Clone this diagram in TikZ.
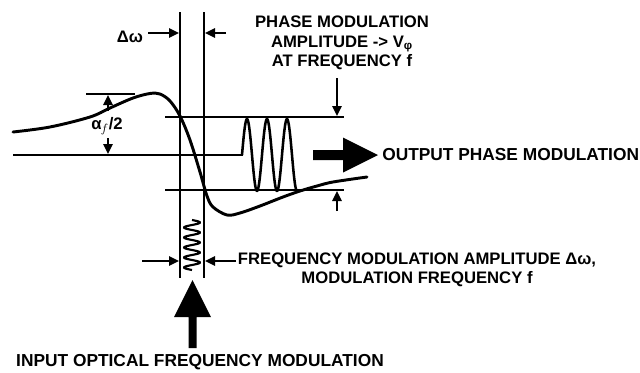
\documentclass[tikz,border=0pt]{standalone}
\usepackage{fontspec}
\setmainfont{Liberation Sans}
\usetikzlibrary{arrows.meta}
\begin{document}
\begin{tikzpicture}[x=0.75pt,y=-0.75pt,
  ln/.style={line width=1.9pt},
  curve/.style={line width=2.2pt, line cap=round, line join=round},
  sarr/.style={line width=1.6pt,-{Triangle[length=7.5pt,width=7pt]}},
  lbl/.style={font=\bfseries\fontsize{12.5}{14.5}\selectfont, inner sep=0pt, align=center},
  lblbig/.style={lbl, font=\bfseries\fontsize{13}{15}\selectfont},
  bigarr/.style={fill=black, draw=none}]
\useasboundingbox (0,0) rectangle (640,372);

% vertical window lines
\coordinate (vlT) at (180,12);  \coordinate (vlB) at (180,278);
\coordinate (vrT) at (204,12);  \coordinate (vrB) at (204,278);
\draw[ln] (vlT) -- (vlB);
\draw[ln] (vrT) -- (vrB);

% horizontal reference lines
\coordinate (cL) at (13,155);  \coordinate (cR) at (243,155);
\coordinate (tL) at (165,117); \coordinate (tR) at (344,117);
\coordinate (bL) at (165,190); \coordinate (bR) at (344,190);
\coordinate (sL) at (86,94);   \coordinate (sR) at (135,94);
\draw[ln] (cL) -- (cR);
\draw[ln] (tL) -- (tR);
\draw[ln] (bL) -- (bR);
\draw[ln] (sL) -- (sR);

% response curve
\draw[curve] plot[smooth, tension=0.55] coordinates {
 (13,132) (50,127) (90,117) (110,108) (133,98) (150,93.5) (160,94) (170,101)
 (180,116) (190,140) (200,172) (207,196) (213,207) (227,215) (240,213)
 (260,206) (283,197) (300,191) (317,186) (333,182) (367,177)};

% output phase modulation sine
\draw[line width=1.9pt, line join=round] plot[domain=242:297, samples=120]
  (\x, {155 - 36*sin(18*(\x-242))});

% input frequency modulation zigzag
\draw[line width=1.6pt, line join=round] plot[domain=220:270, samples=120]
  ({192 + 8*sin(36*(\x-220))}, \x);

% Delta omega markers
\node[lbl] (dw) at (130,37) {Δω};
\coordinate (dwa1) at (148,33); \coordinate (dwa1e) at (179,33);
\coordinate (dwa2) at (226,33); \coordinate (dwa2e) at (205,33);
\draw[sarr] (dwa1) -- (dwa1e);
\draw[sarr] (dwa2) -- (dwa2e);

% alpha_f/2 markers
\node[lbl] (af) at (107,126) {α\kern-0.5pt$_{f}$/2};
\coordinate (afu) at (108,111); \coordinate (afue) at (108,95);
\coordinate (afd) at (108,138); \coordinate (afde) at (108,154);
\draw[sarr] (afu) -- (afue);
\draw[sarr] (afd) -- (afde);

% phase modulation amplitude
\node[lbl] (pm) at (342,43) {PHASE MODULATION\\AMPLITUDE -> V\textsubscript{φ}\\AT FREQUENCY f};
\coordinate (pmu) at (337,78);  \coordinate (pmue) at (337,116);
\coordinate (pmd) at (337,211); \coordinate (pmde) at (337,191);
\draw[sarr] (pmu) -- (pmue);
\draw[sarr] (pmd) -- (pmde);

% output big arrow
\fill[bigarr] (313,150) -- (343,150) -- (343,137.5) -- (378,155) -- (343,172.5)
  -- (343,160) -- (313,160) -- cycle;
\node[lblbig, anchor=west] (out) at (382,155) {OUTPUT PHASE MODULATION};

% frequency modulation amplitude
\coordinate (fma1) at (142,261); \coordinate (fma1e) at (179,261);
\coordinate (fma2) at (236,261); \coordinate (fma2e) at (205,261);
\draw[sarr] (fma1) -- (fma1e);
\draw[sarr] (fma2) -- (fma2e);
\node[lbl] (fm) at (417,270) {FREQUENCY MODULATION AMPLITUDE Δω,\\MODULATION FREQUENCY f};

% input big arrow
\fill[bigarr] (188.5,348) -- (188.5,317) -- (174,317) -- (192.5,280) -- (211,317)
  -- (196.5,317) -- (196.5,348) -- cycle;
\node[lblbig] (in) at (200,362) {INPUT OPTICAL FREQUENCY MODULATION};
\end{tikzpicture}
\end{document}
